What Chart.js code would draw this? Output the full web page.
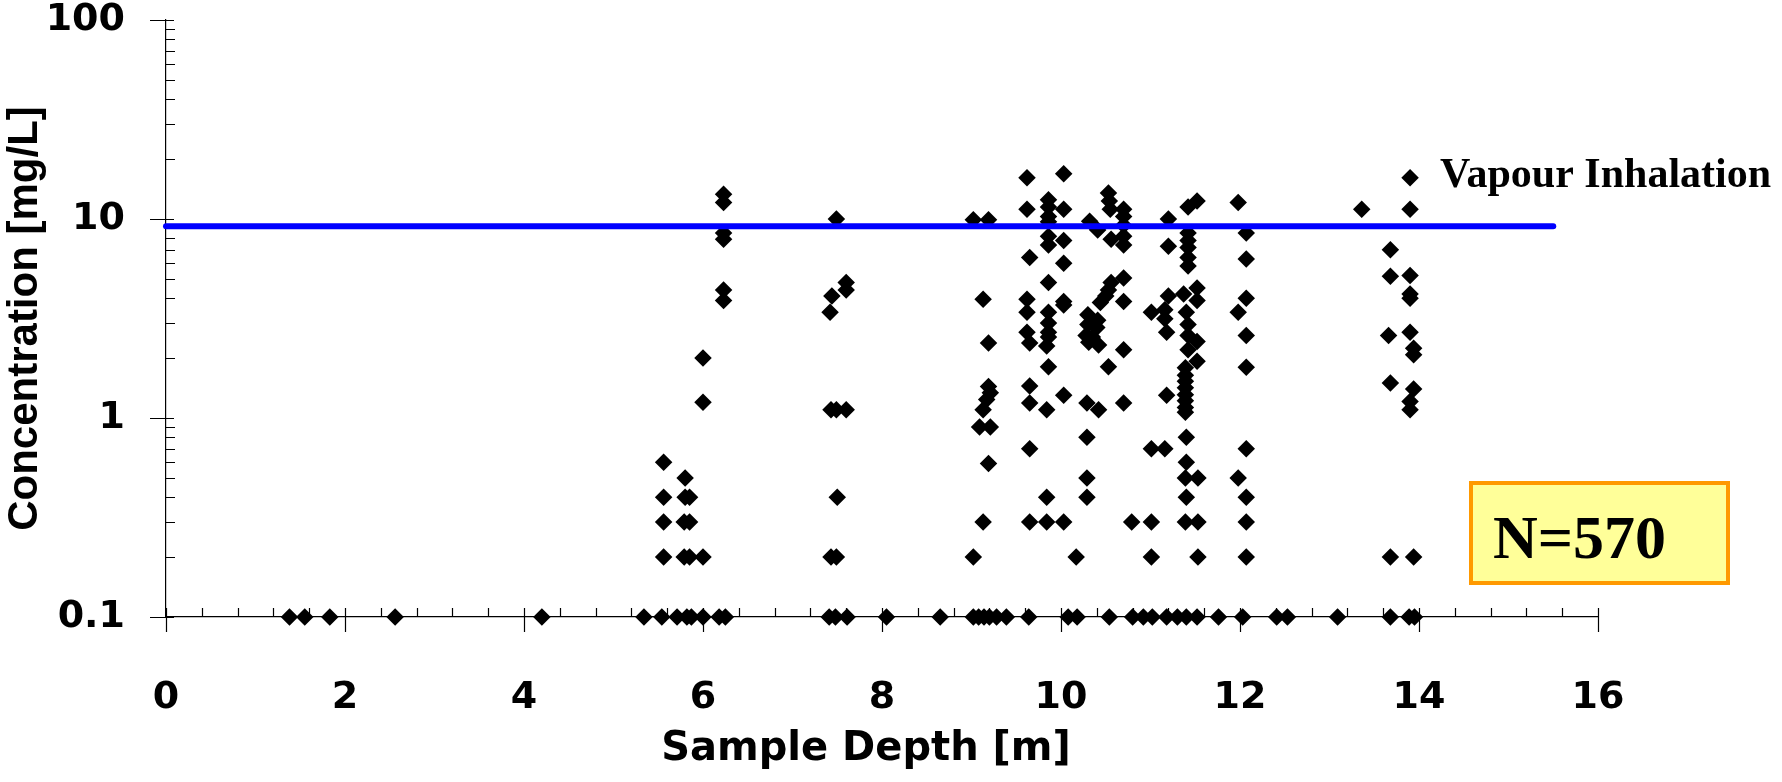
<!DOCTYPE html>
<html>
<head>
<meta charset="utf-8">
<script src="https://cdn.jsdelivr.net/npm/chart.js@4.4.1/dist/chart.umd.min.js"></script>
<style>
  html, body { margin: 0; padding: 0; background: #fff; }
  #wrap { width: 1782px; height: 782px; position: relative; }
</style>
</head>
<body>
<div id="wrap"><canvas id="chart"></canvas></div>
<script>
// axis ticks
const xTickValues = [0, 2, 4, 6, 8, 10, 12, 14, 16];
const yTickValues = [0.1, 1, 10, 100];
const yTickLabels = ["0.1", "1", "10", "100"];

// guideline
const vapourLimit = 9.2;
const vapourLineDepth = [0, 15.5];

// samples below detection, plotted at 0.1 mg/L
const nonDetectDepth = [
  1.38, 1.55, 1.83, 2.56, 4.2, 5.34, 5.54, 5.71, 5.82, 5.87, 6.0, 6.18, 6.25,
  7.41, 7.48, 7.61, 8.05, 8.65, 9.02, 9.08, 9.14, 9.2, 9.28, 9.39, 9.64,
  10.08, 10.18, 10.54, 10.8, 10.92, 11.02, 11.18, 11.3, 11.4, 11.52, 11.76,
  12.03, 12.41, 12.53, 13.09, 13.68, 13.89, 13.95,
];

// detected samples
const detectDepth = [
  5.56, 5.8, 5.56, 5.8, 5.85, 5.56, 5.79, 5.85, 5.56, 5.79, 5.85, 6.0, 6.0, 6.0,
  6.23, 6.23, 6.23, 6.23, 6.23, 6.23,
  7.49, 7.6, 7.6, 7.44, 7.42, 7.43, 7.49, 7.6, 7.5, 7.43, 7.49,
  9.02, 9.19, 9.13, 9.19, 9.19, 9.21, 9.17, 9.13, 9.09, 9.21, 9.19, 9.13, 9.02,
  9.62, 9.62, 9.65, 9.62, 9.62, 9.62, 9.65, 9.65, 9.65, 9.65, 9.65,
  9.86, 9.86, 9.86, 9.86, 9.86, 9.86, 9.86, 9.86, 9.86, 9.86, 9.86, 9.84, 9.86, 9.84, 9.84, 9.84,
  10.03, 10.03, 10.03, 10.03, 10.03, 10.03, 10.03, 10.03, 10.17,
  10.32, 10.41, 10.3, 10.41, 10.3, 10.4, 10.28, 10.35, 10.31, 10.42, 10.44, 10.29, 10.42, 10.29, 10.29, 10.29,
  10.53, 10.54, 10.55, 10.56, 10.56, 10.53, 10.5, 10.53, 10.7, 10.7, 10.7, 10.7, 10.7, 10.7, 10.7, 10.7, 10.7,
  10.79, 11.01, 11.01, 11.01, 11.01,
  11.2, 11.2, 11.2, 11.16, 11.16, 11.18, 11.18, 11.16,
  11.52, 11.42, 11.42, 11.42, 11.42, 11.42, 11.42, 11.37, 11.52, 11.52, 11.4, 11.42, 11.42, 11.52, 11.42, 11.52,
  11.39, 11.39, 11.39, 11.39, 11.39, 11.39, 11.39, 11.39, 11.4, 11.4, 11.39, 11.53, 11.4, 11.39, 11.53, 11.53,
  11.98, 12.07, 12.07, 12.07, 11.98, 12.07, 12.07, 12.07, 11.98, 12.07, 12.07, 12.07,
  13.36, 13.9, 13.9, 13.68, 13.68, 13.9, 13.9, 13.9, 13.66, 13.9, 13.94, 13.94, 13.68, 13.94, 13.9, 13.9, 13.68, 13.94,
];
const detectConc = [
  0.6, 0.5, 0.4, 0.4, 0.4, 0.3, 0.3, 0.3, 0.2, 0.2, 0.2, 0.2, 1.2, 2.0,
  3.9, 4.4, 7.9, 8.5, 12.1, 13.3,
  10, 4.8, 4.4, 4.1, 3.4, 1.1, 1.1, 1.1, 0.4, 0.2, 0.2,
  9.9, 9.9, 3.95, 2.38, 1.44, 1.34, 1.24, 1.1, 0.9, 0.9, 0.59, 0.3, 0.2,
  16.1, 11.2, 6.4, 3.95, 3.4, 2.7, 2.38, 1.45, 1.19, 0.7, 0.3,
  12.5, 11.5, 10.3, 9.7, 8.2, 7.4, 4.8, 3.4, 3.0, 2.7, 2.55, 2.3, 1.81, 1.1, 0.4, 0.3,
  16.9, 11.2, 7.8, 6.0, 3.85, 3.7, 1.3, 0.3, 0.2,
  9.75, 8.8, 3.3, 3.1, 2.95, 2.85, 2.6, 2.55, 2.4, 2.33, 3.8, 1.19, 1.1, 0.8, 0.5, 0.4,
  13.5, 12.3, 11.2, 7.9, 4.8, 4.4, 4.1, 1.81, 11.2, 10.3, 9.3, 8.2, 7.4, 5.05, 3.85, 2.2, 1.19,
  0.3, 0.3, 3.4, 0.7, 0.2,
  10.0, 7.3, 4.1, 3.5, 3.15, 2.7, 1.3, 0.7,
  12.3, 11.5, 8.5, 7.8, 7.2, 6.4, 5.8, 4.2, 4.5, 3.9, 3.4, 2.95, 2.6, 2.42, 2.2, 1.93,
  1.79, 1.64, 1.53, 1.42, 1.31, 1.22, 1.13, 1.07, 0.8, 0.6, 0.5, 0.5, 0.4, 0.3, 0.3, 0.2,
  12.1, 8.5, 6.3, 4.0, 3.4, 2.6, 1.8, 0.7, 0.5, 0.4, 0.3, 0.2,
  11.2, 16.1, 11.2, 7.0, 5.15, 5.2, 4.2, 4.0, 2.6, 2.7, 2.24, 2.08, 1.5, 1.4, 1.21, 1.1, 0.2, 0.2,
];

const detectionFloor = 0.1;
const sampleCount = "N=570";

const samplePoints = nonDetectDepth
  .map((d) => ({ x: d, y: detectionFloor }))
  .concat(detectDepth.map((d, i) => ({ x: d, y: detectConc[i] })));

const axisFont = { family: "DejaVu Sans", weight: "bold", size: 38 };

// log minor ticks inside the frame, majors crossing the axis
const tickMarks = {
  id: "tickMarks",
  beforeDatasetsDraw(chart) {
    const { ctx, chartArea, scales } = chart;
    const x = scales.x;
    const y = scales.y;
    ctx.save();
    ctx.strokeStyle = "#000";
    ctx.lineWidth = 1.2;
    ctx.beginPath();
    yTickValues.forEach((v, i) => {
      const py = Math.round(y.getPixelForValue(v)) + 0.5;
      ctx.moveTo(chartArea.left - 16, py);
      ctx.lineTo(chartArea.left + 8, py);
      if (i < yTickValues.length - 1) {
        for (let m = 2; m <= 9; m += 1) {
          const pm = Math.round(y.getPixelForValue(v * m)) + 0.5;
          ctx.moveTo(chartArea.left, pm);
          ctx.lineTo(chartArea.left + 9, pm);
        }
      }
    });
    const bottom = chartArea.bottom;
    for (let v = 0; v <= 16.001; v += 0.4) {
      const px = Math.round(x.getPixelForValue(v)) + 0.5;
      const major = Math.abs(v / 2 - Math.round(v / 2)) < 0.01;
      ctx.moveTo(px, bottom - 9);
      ctx.lineTo(px, major ? bottom + 15 : bottom);
    }
    ctx.stroke();
    ctx.restore();
  },
  afterDraw(chart) {
    const { ctx } = chart;
    ctx.save();
    ctx.fillStyle = "#000";

    // x axis title sits a little left of the plot centre
    ctx.font = "bold 40px 'DejaVu Sans'";
    ctx.textAlign = "center";
    ctx.textBaseline = "middle";
    ctx.fillText("Sample Depth [m]", 866, 750);

    ctx.textAlign = "left";
    ctx.textBaseline = "alphabetic";
    ctx.font = "bold 42px 'Liberation Serif'";
    ctx.fillText("Vapour Inhalation", 1440, 187);

    ctx.fillStyle = "#FFFF99";
    ctx.fillRect(1469, 481, 261, 104);
    ctx.strokeStyle = "#FF9900";
    ctx.lineWidth = 4;
    ctx.strokeRect(1471, 483, 257, 100);
    ctx.fillStyle = "#000";
    ctx.font = "bold 62px 'Liberation Serif'";
    ctx.fillText(sampleCount, 1493, 558);
    ctx.restore();
  },
};

new Chart(document.getElementById("chart"), {
  data: {
    datasets: [
      {
        type: "line",
        label: "Vapour Inhalation",
        data: vapourLineDepth.map((d) => ({ x: d, y: vapourLimit })),
        borderColor: "#0000FF",
        borderWidth: 6,
        borderCapStyle: "round",
        pointRadius: 0,
        clip: false,
        order: 0,
      },
      {
        type: "scatter",
        label: "Samples",
        data: samplePoints,
        pointStyle: "rectRot",
        pointRadius: 8.75,
        pointHoverRadius: 8.75,
        backgroundColor: "#000",
        borderWidth: 0,
        clip: false,
        order: 1,
      },
    ],
  },
  options: {
    responsive: true,
    maintainAspectRatio: false,
    animation: false,
    events: [],
    layout: { padding: { top: 20, right: 184, left: 0, bottom: 0 } },
    plugins: {
      legend: { display: false },
      tooltip: { enabled: false },
    },
    scales: {
      x: {
        type: "linear",
        min: 0,
        max: 16,
        afterBuildTicks: (scale) => {
          scale.ticks = xTickValues.map((v) => ({ value: v }));
        },
        afterFit: (scale) => {
          scale.height = 165;
          scale.paddingLeft = 0;
          scale.paddingRight = 0;
        },
        grid: { display: false, drawTicks: false },
        border: { display: true, color: "#000", width: 1.2 },
        ticks: { font: axisFont, color: "#000", padding: 58, maxRotation: 0 },
        title: { display: false },
      },
      y: {
        type: "logarithmic",
        min: 0.1,
        max: 100,
        afterBuildTicks: (scale) => {
          scale.ticks = yTickValues.map((v) => ({ value: v }));
        },
        afterFit: (scale) => {
          scale.width = 166;
          scale.paddingTop = 0;
          scale.paddingBottom = 0;
        },
        grid: { display: false, drawTicks: false },
        border: { display: true, color: "#000", width: 1.2 },
        ticks: {
          font: axisFont,
          color: "#000",
          padding: 41,
          callback: (value) => yTickLabels[yTickValues.indexOf(value)],
        },
        title: {
          display: true,
          text: "Concentration [mg/L]",
          font: { family: "Liberation Sans", weight: "bold", size: 42 },
          color: "#000",
          padding: 0,
        },
      },
    },
  },
  plugins: [tickMarks],
});
</script>
</body>
</html>
